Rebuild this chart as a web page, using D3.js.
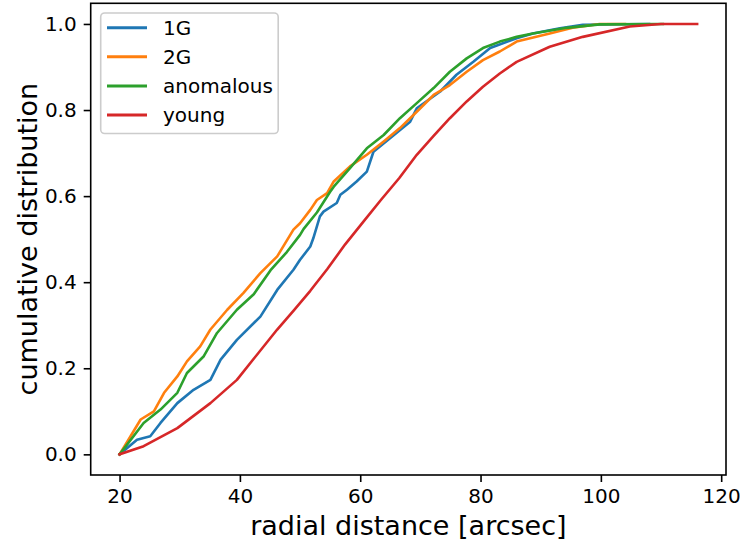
<!DOCTYPE html>
<html><head><meta charset="utf-8">
<script src="https://cdn.jsdelivr.net/npm/d3@7"></script>
<style>body{margin:0;background:#fff;} text{font-family:"DejaVu Sans",sans-serif;fill:#000;}</style>
</head><body>
<svg id="chart" width="740" height="543"></svg>
<script>
const seriesNames = ["1G", "2G", "anomalous", "young"];
const seriesColors = ["#1f77b4", "#ff7f0e", "#2ca02c", "#d62728"];
const xTicks = [20, 40, 60, 80, 100, 120];
const yTicks = [0.0, 0.2, 0.4, 0.6, 0.8, 1.0];

const data1G = [[20,0],[22.9,0.034],[25.1,0.042],[26.8,0.073],[29.6,0.119],[32.3,0.150],[35.1,0.173],[36.8,0.22],[39.5,0.266],[43.4,0.32],[46.2,0.382],[48.9,0.429],[50,0.452],[51.7,0.483],[52.2,0.502],[53.3,0.553],[53.9,0.564],[56.1,0.584],[56.7,0.603],[57.8,0.615],[59.4,0.634],[61.1,0.657],[62.2,0.703],[65.0,0.735],[68.3,0.773],[69.4,0.804],[73.3,0.843],[76.0,0.882],[78.8,0.912],[81.6,0.944],[86.0,0.967],[88.7,0.978],[93.2,0.99],[97.0,0.998],[108,1.0]];
const data2G = [[20,0],[23.5,0.081],[25.7,0.10],[27.4,0.143],[29.6,0.181],[31.2,0.216],[33.4,0.251],[35.1,0.29],[37.9,0.336],[40.6,0.375],[43.4,0.421],[46.2,0.46],[48.9,0.522],[50.0,0.537],[51.7,0.568],[52.8,0.591],[54.5,0.607],[55.6,0.634],[58.3,0.669],[61.1,0.696],[63.9,0.727],[66.6,0.758],[69.4,0.796],[72.2,0.835],[74.9,0.858],[77.7,0.889],[80.4,0.916],[83.2,0.936],[86.0,0.959],[91.5,0.978],[95.3,0.991],[99.8,1.0],[104,1.0]];
const dataAnom = [[20,0],[24.0,0.073],[26.8,0.104],[29.6,0.143],[31.2,0.189],[34.0,0.228],[36.2,0.282],[39.5,0.336],[42.3,0.372],[45.1,0.428],[47.8,0.47],[50.0,0.51],[50.6,0.524],[52.8,0.562],[55.0,0.61],[55.6,0.622],[58.3,0.665],[61.1,0.711],[63.9,0.742],[66.6,0.781],[69.4,0.816],[72.2,0.851],[74.9,0.889],[77.7,0.920],[80.4,0.944],[83.2,0.959],[86.0,0.970],[88.7,0.978],[94.3,0.991],[99.8,0.999],[110.3,1.0]];
const dataYoung = [[20,0],[24.0,0.019],[29.6,0.061],[35.1,0.119],[39.5,0.173],[42.3,0.222],[46.2,0.29],[49.0,0.335],[51.7,0.38],[54.5,0.43],[57.5,0.488],[60.5,0.54],[63.5,0.592],[66.5,0.642],[69.4,0.696],[72.2,0.74],[74.9,0.781],[77.7,0.82],[80.4,0.854],[83.2,0.885],[86.0,0.912],[91.5,0.947],[97.0,0.970],[104.8,0.994],[110,1.0],[116,1.0]];

const allData = [data1G, data2G, dataAnom, dataYoung];

const L = 90.7, R = 726, T = 3.3, B = 475;
const svg = d3.select("#chart");
const x = d3.scaleLinear().domain([15.2, 120.8]).range([L, R]);
const y = d3.scaleLinear().domain([-0.048, 1.048]).range([B, T]);

const line = d3.line().x(d => x(d[0])).y(d => y(d[1]));
const g = svg.append("g");
allData.forEach((d, i) => {
  g.append("path").datum(d).attr("d", line)
    .attr("fill", "none").attr("stroke", seriesColors[i])
    .attr("stroke-width", 2.6).attr("stroke-linejoin", "round").attr("stroke-linecap", "square");
});

const xAxis = svg.append("g").attr("transform", `translate(0,${B})`)
  .call(d3.axisBottom(x).tickValues(xTicks).tickFormat(d3.format("d")).tickSize(7).tickPadding(7));
const yAxis = svg.append("g").attr("transform", `translate(${L},0)`)
  .call(d3.axisLeft(y).tickValues(yTicks).tickFormat(d3.format(".1f")).tickSize(7).tickPadding(7));
[xAxis, yAxis].forEach(a => {
  a.select(".domain").remove();
  a.selectAll(".tick line").attr("stroke", "#000").attr("stroke-width", 1.6);
  a.selectAll(".tick text").style("font-size", "20px").style("font-family", "DejaVu Sans").attr("fill", "#000");
});

svg.append("rect").attr("x", L).attr("y", T).attr("width", R - L).attr("height", B - T)
  .attr("fill", "none").attr("stroke", "#000").attr("stroke-width", 1.6);

svg.append("text").attr("x", (L + R) / 2).attr("y", 535).attr("text-anchor", "middle")
  .style("font-size", "27px").text("radial distance [arcsec]");
svg.append("text").attr("transform", `translate(37,${(T + B) / 2}) rotate(-90)`).attr("text-anchor", "middle")
  .style("font-size", "27px").text("cumulative distribution");

// legend
const lg = svg.append("g");
lg.append("rect").attr("x", 100.7).attr("y", 13).attr("width", 177.5).attr("height", 120.5)
  .attr("rx", 4).attr("fill", "#fff").attr("fill-opacity", 0.8).attr("stroke", "#ccc").attr("stroke-width", 1.6);
seriesNames.forEach((n, i) => {
  const yy = 27.7 + i * 29.1;
  lg.append("line").attr("x1", 107).attr("x2", 147).attr("y1", yy).attr("y2", yy)
    .attr("stroke", seriesColors[i]).attr("stroke-width", 3);
  lg.append("text").attr("x", 163).attr("y", yy + 7).style("font-size", "20px").text(n);
});
</script>
</body></html>
